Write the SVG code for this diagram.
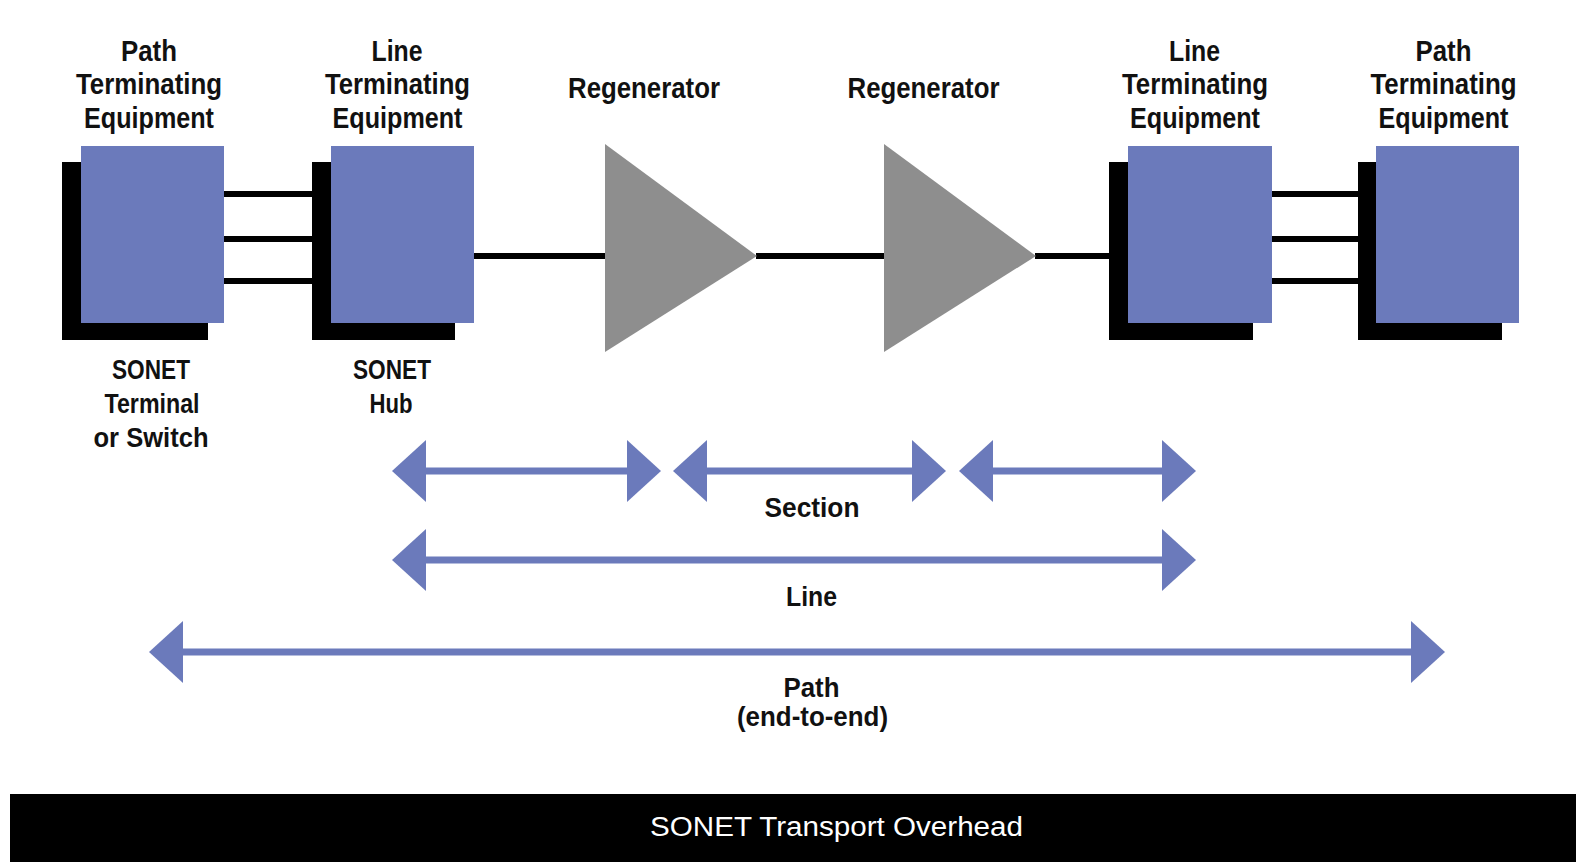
<svg xmlns="http://www.w3.org/2000/svg" width="1576" height="862" viewBox="0 0 1576 862">
  <style>
    .lbl { font-family: "Liberation Sans Narrow", "Liberation Sans", Arial, sans-serif; font-weight: bold; font-size: 29px; fill: #111; text-anchor: middle; }
    .sub { font-size: 27px; }
    .box { fill: #6b7abb; }
    .shadow { fill: #000; }
    .regen { fill: #8e8e8e; }
    .wire { stroke: #000; stroke-width: 6; fill: none; }
    .dim { stroke: #6b7abb; stroke-width: 7; fill: none; marker-start: url(#head); marker-end: url(#head); }
    .bar { fill: #000; }
    .bartext { font-family: "Liberation Sans", Arial, sans-serif; font-size: 27px; fill: #fff; text-anchor: middle; }
  </style>
  <defs>
    <marker id="head" viewBox="0 0 34 62" refX="1" refY="31" markerWidth="34" markerHeight="62" markerUnits="userSpaceOnUse" orient="auto-start-reverse">
      <path d="M0,0 L34,31 L0,62 Z" fill="#6b7abb"/>
    </marker>
  </defs>
  <rect x="0" y="0" width="1576" height="862" fill="#ffffff"/>

  <g id="connectors">
    <line class="wire" x1="224" y1="194" x2="312" y2="194"/>
    <line class="wire" x1="224" y1="239" x2="312" y2="239"/>
    <line class="wire" x1="224" y1="281" x2="312" y2="281"/>
    <line class="wire" x1="474" y1="256" x2="606" y2="256"/>
    <line class="wire" x1="756" y1="256" x2="885" y2="256"/>
    <line class="wire" x1="1035" y1="256" x2="1110" y2="256"/>
    <line class="wire" x1="1271" y1="194" x2="1359" y2="194"/>
    <line class="wire" x1="1271" y1="239" x2="1359" y2="239"/>
    <line class="wire" x1="1271" y1="281" x2="1359" y2="281"/>
  </g>

  <g id="pte-left">
    <rect class="shadow" x="62" y="162" width="146" height="178"/>
    <rect class="box" x="81" y="146" width="143" height="177"/>
    <text class="lbl" x="149" y="61" textLength="56" lengthAdjust="spacingAndGlyphs">Path</text>
    <text class="lbl" x="149" y="94" textLength="146" lengthAdjust="spacingAndGlyphs">Terminating</text>
    <text class="lbl" x="149" y="128" textLength="130" lengthAdjust="spacingAndGlyphs">Equipment</text>
    <text class="lbl sub" x="151" y="379" textLength="78" lengthAdjust="spacingAndGlyphs">SONET</text>
    <text class="lbl sub" x="152" y="413" textLength="95" lengthAdjust="spacingAndGlyphs">Terminal</text>
    <text class="lbl sub" x="151" y="447" textLength="115" lengthAdjust="spacingAndGlyphs">or Switch</text>
  </g>

  <g id="lte-left">
    <rect class="shadow" x="312" y="162" width="143" height="178"/>
    <rect class="box" x="331" y="146" width="143" height="177"/>
    <text class="lbl" x="397" y="61" textLength="51" lengthAdjust="spacingAndGlyphs">Line</text>
    <text class="lbl" x="397.5" y="94" textLength="145" lengthAdjust="spacingAndGlyphs">Terminating</text>
    <text class="lbl" x="397.5" y="128" textLength="130" lengthAdjust="spacingAndGlyphs">Equipment</text>
    <text class="lbl sub" x="392" y="379" textLength="78" lengthAdjust="spacingAndGlyphs">SONET</text>
    <text class="lbl sub" x="391" y="413" textLength="43" lengthAdjust="spacingAndGlyphs">Hub</text>
  </g>

  <g id="regen-1">
    <polygon class="regen" points="605,144 757,256 605,352"/>
    <text class="lbl" x="644" y="98" textLength="152" lengthAdjust="spacingAndGlyphs">Regenerator</text>
  </g>

  <g id="regen-2">
    <polygon class="regen" points="884,144 1036,256 884,352"/>
    <text class="lbl" x="923.5" y="98" textLength="152" lengthAdjust="spacingAndGlyphs">Regenerator</text>
  </g>

  <g id="lte-right">
    <rect class="shadow" x="1109" y="162" width="144" height="178"/>
    <rect class="box" x="1128" y="146" width="144" height="177"/>
    <text class="lbl" x="1194.5" y="61" textLength="51" lengthAdjust="spacingAndGlyphs">Line</text>
    <text class="lbl" x="1195" y="94" textLength="146" lengthAdjust="spacingAndGlyphs">Terminating</text>
    <text class="lbl" x="1195" y="128" textLength="130" lengthAdjust="spacingAndGlyphs">Equipment</text>
  </g>

  <g id="pte-right">
    <rect class="shadow" x="1358" y="162" width="144" height="178"/>
    <rect class="box" x="1376" y="146" width="143" height="177"/>
    <text class="lbl" x="1443.5" y="61" textLength="56" lengthAdjust="spacingAndGlyphs">Path</text>
    <text class="lbl" x="1443.5" y="94" textLength="146" lengthAdjust="spacingAndGlyphs">Terminating</text>
    <text class="lbl" x="1443.5" y="128" textLength="130" lengthAdjust="spacingAndGlyphs">Equipment</text>
  </g>

  <g id="spans">
    <line class="dim" x1="425" y1="471" x2="628" y2="471"/>
    <line class="dim" x1="706" y1="471" x2="913" y2="471"/>
    <line class="dim" x1="992" y1="471" x2="1163" y2="471"/>
    <line class="dim" x1="425" y1="560" x2="1163" y2="560"/>
    <line class="dim" x1="182" y1="652" x2="1412" y2="652"/>
    <text class="lbl sub" x="812" y="517" textLength="95" lengthAdjust="spacingAndGlyphs">Section</text>
    <text class="lbl sub" x="811.5" y="606" textLength="51" lengthAdjust="spacingAndGlyphs">Line</text>
    <text class="lbl sub" x="811.5" y="697" textLength="56" lengthAdjust="spacingAndGlyphs">Path</text>
    <text class="lbl sub" x="812.5" y="726" textLength="151" lengthAdjust="spacingAndGlyphs">(end-to-end)</text>
  </g>

  <g id="footer">
    <rect class="bar" x="10" y="794" width="1566" height="68"/>
    <text class="bartext" x="836.5" y="836" textLength="373" lengthAdjust="spacingAndGlyphs">SONET Transport Overhead</text>
  </g>
</svg>
